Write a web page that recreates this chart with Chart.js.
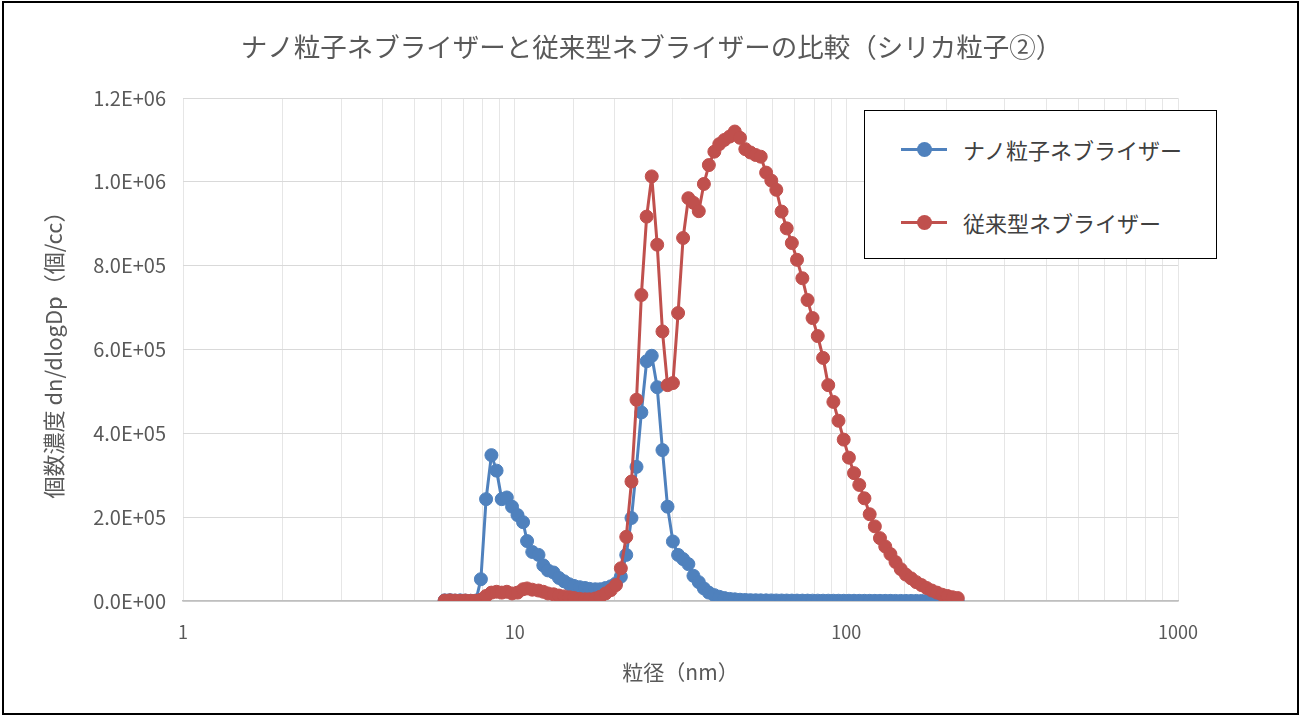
<!DOCTYPE html>
<html lang="ja">
<head>
<meta charset="utf-8">
<title>ナノ粒子ネブライザーと従来型ネブライザーの比較</title>
<script src="https://cdn.jsdelivr.net/npm/chart.js@4.4.1/dist/chart.umd.min.js"></script>
<style>
  html, body { margin: 0; padding: 0; background: #fff; }
  #wrap { position: relative; width: 1303px; height: 717px; overflow: hidden; }
  #frame {
    position: absolute; left: 2px; top: 1px; width: 1293px; height: 710px;
    border: 2px solid #000; pointer-events: none;
  }
  #legend {
    position: absolute; left: 864px; top: 110px; width: 351px; height: 147px;
    border: 1.5px solid #000; background: #fff;
    font-family: "Noto Sans CJK JP", sans-serif; font-size: 22px; color: #404040;
  }
  #legend .item { position: absolute; left: 0; height: 30px; display: flex; align-items: center; }
  #legend .sym { position: relative; width: 46px; height: 30px; margin-left: 36px; margin-right: 16px; }
  #legend .sym::before {
    content: ""; position: absolute; left: 0; right: 0; top: 13.5px; height: 3px; background: var(--c);
  }
  #legend .sym::after {
    content: ""; position: absolute; left: 15.5px; top: 7.5px; width: 15px; height: 15px;
    border-radius: 50%; background: var(--c);
  }
</style>
</head>
<body>
<div id="wrap">
  <canvas id="chart" width="1303" height="717"></canvas>
  <div id="legend"></div>
  <div id="frame"></div>
</div>
<script>
const TITLE = "ナノ粒子ネブライザーと従来型ネブライザーの比較（シリカ粒子②）";
const X_TITLE = "粒径（nm）";
const Y_TITLE = "個数濃度 dn/dlogDp（個/cc）";
const SERIES_LABELS = ["ナノ粒子ネブライザー", "従来型ネブライザー"];
const X_TICK_LABELS = [1, 10, 100, 1000];

// 粒径 (nm)
const sizes = [
  6.15, 6.38, 6.61, 6.85, 7.10, 7.37, 7.64, 7.91, 8.20, 8.51,
  8.82, 9.14, 9.47, 9.82, 10.2, 10.6, 10.9, 11.3, 11.8, 12.2,
  12.6, 13.1, 13.6, 14.1, 14.6, 15.1, 15.7, 16.3, 16.8, 17.5,
  18.1, 18.8, 19.5, 20.2, 20.9, 21.7, 22.5, 23.3, 24.1, 25.0,
  25.9, 26.9, 27.9, 28.9, 30.0, 31.1, 32.2, 33.4, 34.6, 35.9,
  37.2, 38.5, 40.0, 41.4, 42.9, 44.5, 46.1, 47.8, 49.6, 51.4,
  53.3, 55.2, 57.3, 59.4, 61.5, 63.8, 66.1, 68.5, 71.0, 73.7,
  76.4, 79.1, 82.0, 85.1, 88.2, 91.4, 94.7, 98.2, 101.8, 105.5,
  109.4, 113.4, 117.6, 121.9, 126.3, 131.0, 135.8, 140.7, 145.9, 151.2,
  156.8, 162.5, 168.5, 174.7, 181.1, 187.7, 194.6, 201.7, 209.1, 216.7,
];

// ナノ粒子ネブライザー
const nanoNeb = [
  1500, 2000, 1000, 1500, 1000, 500, 1000, 52000, 243000, 348000,
  311000, 243000, 247000, 225000, 205000, 188000, 143000, 117000, 110000, 85000,
  73000, 68000, 55000, 47000, 40000, 36000, 33000, 31000, 29000, 28000,
  28000, 31000, 35000, 42000, 58000, 110000, 198000, 320000, 450000, 572000,
  585000, 510000, 360000, 225000, 142000, 110000, 100000, 88000, 60000, 45000,
  30000, 20000, 14000, 10000, 7000, 5000, 4000, 3000, 2500, 2000,
  1800, 1600, 1500, 1400, 1300, 1200, 1100, 1000, 1000, 900,
  900, 800, 800, 700, 700, 600, 600, 500, 500, 500,
  400, 400, 400, 300, 300, 300, 300, 200, 200, 200,
  200, 200, 100, 100, 100, 100, 100, 100, 100, 100,
];

// 従来型ネブライザー
const convNeb = [
  1000, 1500, 1000, 500, 1000, 500, 500, 3000, 12000, 20000,
  22000, 20000, 22000, 18000, 20000, 28000, 30000, 27000, 25000, 22000,
  18000, 16000, 13000, 11000, 9000, 7000, 5000, 4000, 4000, 6000,
  10000, 18000, 26000, 38000, 78000, 153000, 285000, 480000, 730000, 917000,
  1013000, 850000, 643000, 515000, 520000, 687000, 866000, 961000, 950000, 930000,
  995000, 1040000, 1072000, 1090000, 1100000, 1108000, 1120000, 1105000, 1078000, 1070000,
  1064000, 1060000, 1022000, 1003000, 981000, 929000, 889000, 854000, 814000, 770000,
  718000, 675000, 632000, 580000, 515000, 475000, 430000, 385000, 342000, 305000,
  277000, 245000, 207000, 178000, 150000, 130000, 112000, 93000, 76000, 63000,
  54000, 45000, 38000, 31000, 25000, 20000, 15000, 12000, 9000, 7000,
];

const COLORS = ["#4F81BD", "#C0504D"];
const FONT = "'Noto Sans CJK JP', 'Noto Sans', sans-serif";
const TEXT_COLOR = "#595959";

function toPoints(ys) {
  return sizes.map((x, i) => ({ x, y: ys[i] }));
}

function fmtExp(v) {
  if (v === 0) return "0.0E+00";
  const exp = Math.floor(Math.log10(v));
  const mant = v / Math.pow(10, exp);
  return `${mant.toFixed(1)}E+${String(exp).padStart(2, "0")}`;
}

const datasets = [nanoNeb, convNeb].map((ys, i) => ({
  label: SERIES_LABELS[i],
  data: toPoints(ys),
  borderColor: COLORS[i],
  backgroundColor: COLORS[i],
  pointBackgroundColor: COLORS[i],
  pointBorderColor: COLORS[i],
  borderWidth: 3,
  borderJoinStyle: "round",
  borderCapStyle: "round",
  pointRadius: 6.5,
  pointBorderWidth: 1,
  tension: 0,
  yAxisID: "y",
  order: i === 0 ? 1 : 0,
}));

const chart = new Chart(document.getElementById("chart"), {
  type: "line",
  data: { datasets },
  options: {
    responsive: false,
    animation: false,
    devicePixelRatio: 1,
    layout: { padding: 0 },
    plugins: {
      legend: { display: false },
      tooltip: { enabled: false },
      title: {
        display: true,
        text: TITLE,
        color: TEXT_COLOR,
        font: { family: FONT, size: 26.5, weight: "normal" },
        padding: { top: 31, bottom: 35.2 },
      },
    },
    scales: {
      x: {
        type: "logarithmic",
        min: 1,
        max: 1000,
        grid: { color: "#E6E6E6", lineWidth: 1, drawTicks: false },
        border: { display: true, color: "#BFBFBF", width: 1.5 },
        ticks: {
          autoSkip: false,
          maxRotation: 0,
          padding: 20,
          color: TEXT_COLOR,
          font: { family: FONT, size: 18 },
          callback: (v) => (X_TICK_LABELS.includes(v) ? String(v) : ""),
        },
        title: {
          display: true,
          text: X_TITLE,
          color: TEXT_COLOR,
          font: { family: FONT, size: 21 },
          padding: { top: 0, bottom: 32.4 },
        },
        afterFit: (scale) => { scale.height = 116; },
      },
      y: {
        min: 0,
        max: 1200000,
        grid: { color: "#D9D9D9", lineWidth: 1, drawTicks: false },
        border: { display: false },
        ticks: {
          stepSize: 200000,
          padding: 17,
          color: TEXT_COLOR,
          font: { family: FONT, size: 20 },
          callback: (v) => fmtExp(v),
        },
        title: {
          display: true,
          text: Y_TITLE,
          color: TEXT_COLOR,
          font: { family: FONT, size: 22 },
          padding: { top: 40, bottom: 0 },
        },
        afterFit: (scale) => { scale.width = 183; },
      },
      // 右側の余白 (凡例の分)
      gap: {
        position: "right",
        min: 0,
        max: 1,
        grid: { drawOnChartArea: false, drawTicks: false },
        border: { display: false },
        ticks: { display: false },
        afterFit: (scale) => { scale.width = 125; },
      },
    },
  },
});

// 凡例 (HTML)
const LEGEND_ROWS = [38, 111];
document.getElementById("legend").innerHTML = chart.data.datasets.map((ds, i) => `
  <div class="item" style="top:${LEGEND_ROWS[i] - 15}px">
    <span class="sym" style="--c:${ds.borderColor}"></span><span>${ds.label}</span>
  </div>`).join("");
</script>
</body>
</html>
